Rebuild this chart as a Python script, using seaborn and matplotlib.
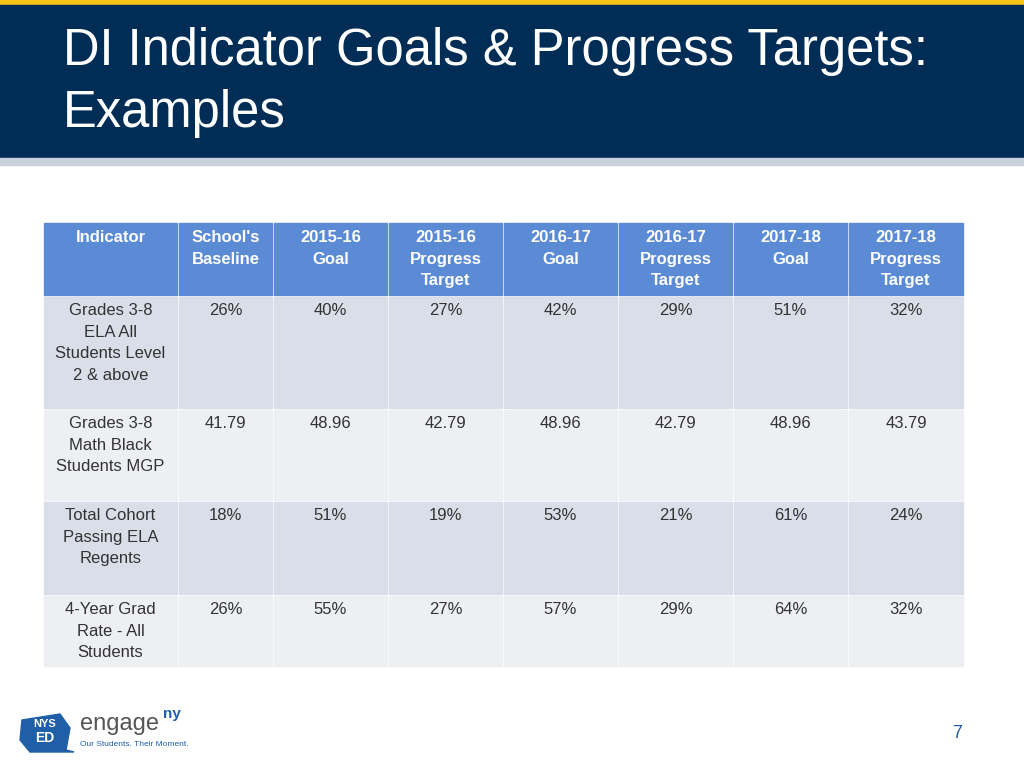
import matplotlib
matplotlib.use("Agg")
import matplotlib.pyplot as plt
from matplotlib.patches import Rectangle, Polygon
import seaborn as sns

sns.set_theme(style="white", font="Liberation Sans")

title = "DI Indicator Goals & Progress Targets:\nExamples"
headers = ["Indicator", "School's\nBaseline", "2015-16\nGoal", "2015-16\nProgress\nTarget",
           "2016-17\nGoal", "2016-17\nProgress\nTarget", "2017-18\nGoal", "2017-18\nProgress\nTarget"]
indicators = ["Grades 3-8\nELA All\nStudents Level\n2 & above",
              "Grades 3-8\nMath Black\nStudents MGP",
              "Total Cohort\nPassing ELA\nRegents",
              "4-Year Grad\nRate - All\nStudents"]
ela_all = ["26%", "40%", "27%", "42%", "29%", "51%", "32%"]
math_black = ["41.79", "48.96", "42.79", "48.96", "42.79", "48.96", "43.79"]
cohort_ela = ["18%", "51%", "19%", "53%", "21%", "61%", "24%"]
grad_rate = ["26%", "55%", "27%", "57%", "29%", "64%", "32%"]
rows = [ela_all, math_black, cohort_ela, grad_rate]
page = "7"

fig = plt.figure(figsize=(10.24, 7.68), dpi=100)
ax = fig.add_axes([0, 0, 1, 1])
ax.set_xlim(0, 1024); ax.set_ylim(768, 0); ax.axis("off")

# banner
ax.add_patch(Rectangle((0, 0), 1024, 5, color="#F5C518"))
ax.add_patch(Rectangle((0, 5), 1024, 153, color="#002D56"))
ax.add_patch(Rectangle((0, 158), 1024, 7, color="#C9D1DC"))
ax.text(63, 52, "DI Indicator Goals & Progress Targets:", color="white", fontsize=36.5, va="center")
ax.text(63, 113, "Examples", color="white", fontsize=36.5, va="center")

xs = [43, 178, 273, 388, 503, 618, 733, 848, 964]
ys = [222, 296, 409, 501, 595, 667]
hdr_col = "#5B8BD4"
row_cols = ["#D9DEE8", "#EDEFF3", "#D9DEE8", "#EDEFF3"]
g = 1.0
for j, h in enumerate(headers):
    ax.add_patch(Rectangle((xs[j] + g, ys[0] + g), xs[j+1] - xs[j] - 2*g, ys[1] - ys[0] - 2*g, color=hdr_col))
    ax.text((xs[j] + xs[j+1]) / 2, ys[0] + 8, h, color="white", fontsize=12, fontweight="bold",
            ha="center", va="top", linespacing=1.55)
for i, (ind, vals) in enumerate(zip(indicators, rows)):
    cells = [ind] + vals
    for j, c in enumerate(cells):
        ax.add_patch(Rectangle((xs[j] + g, ys[i+1] + g), xs[j+1] - xs[j] - 2*g, ys[i+2] - ys[i+1] - 2*g,
                               color=row_cols[i]))
        ax.text((xs[j] + xs[j+1]) / 2, ys[i+1] + 7, c, color="#333333", fontsize=12,
                ha="center", va="top", linespacing=1.55)

# footer logo
ax.add_patch(Polygon([(22, 720), (60, 714), (70, 728), (66, 750), (74, 752), (30, 752), (20, 740)],
                     color="#1F5FA8"))
ax.text(45, 724, "NYS", color="white", fontsize=8, fontweight="bold", ha="center", va="center")
ax.text(45, 738, "ED", color="white", fontsize=10, fontweight="bold", ha="center", va="center")
ax.text(80, 724, "engage", color="#555555", fontsize=17, va="center")
ax.text(163, 714, "ny", color="#1F5FA8", fontsize=11, fontweight="bold", va="center")
ax.text(80, 745, "Our Students. Their Moment.", color="#1F5FA8", fontsize=6, va="center")
ax.text(957, 733, page, color="#1F5FA8", fontsize=13, ha="center", va="center")

fig.savefig("out.png", dpi=100)
